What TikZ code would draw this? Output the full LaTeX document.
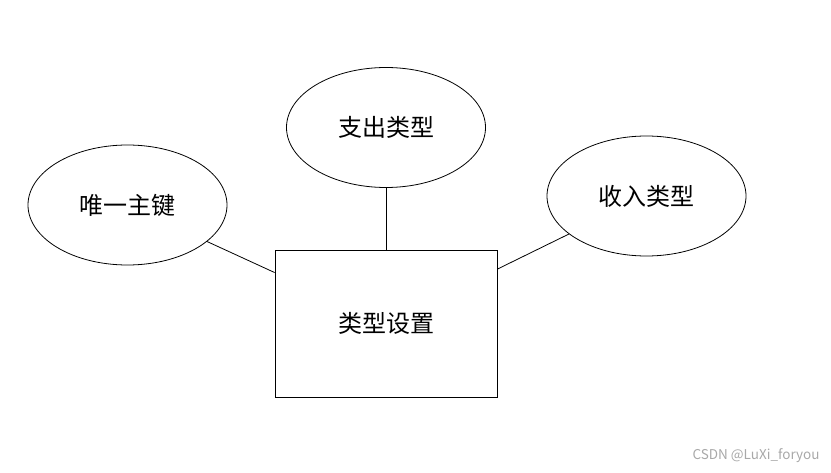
\documentclass[tikz,border=0pt]{standalone}
\usepackage{fontspec}
\setmainfont{Noto Sans CJK SC}
\usetikzlibrary{positioning, shapes.geometric}
\definecolor{wmgray}{HTML}{A8A8A8}

\begin{document}
\begin{tikzpicture}[
      x=1pt, y=-1pt,
      every node/.style={font=\fontsize{24}{28}\selectfont},
      attr/.style={draw, thick, ellipse, minimum width=199pt, minimum height=120pt, inner sep=0pt},
      entity/.style={draw, thick, rectangle, minimum width=222pt, minimum height=147pt, inner sep=0pt},
      link/.style={thick},
    ]
    \useasboundingbox (0,0) rectangle (831,473);

    \node[entity] (set) at (386, 323.5) {类型设置};

    \node[attr] (pk)  at (127.5, 205) {唯一主键};
    \node[attr] (out) at (386, 127.5) {支出类型};
    \node[attr] (in)  at (646.5, 196) {收入类型};

    \draw[link] (pk)  -- (set);
    \draw[link] (out) -- (set);
    \draw[link] (in)  -- (set);

    \node[anchor=east, text=wmgray, font=\fontsize{13.5}{16}\selectfont] (wm) at (823, 456)
      {CSDN @LuXi\_foryou};
  \end{tikzpicture}
\end{document}
